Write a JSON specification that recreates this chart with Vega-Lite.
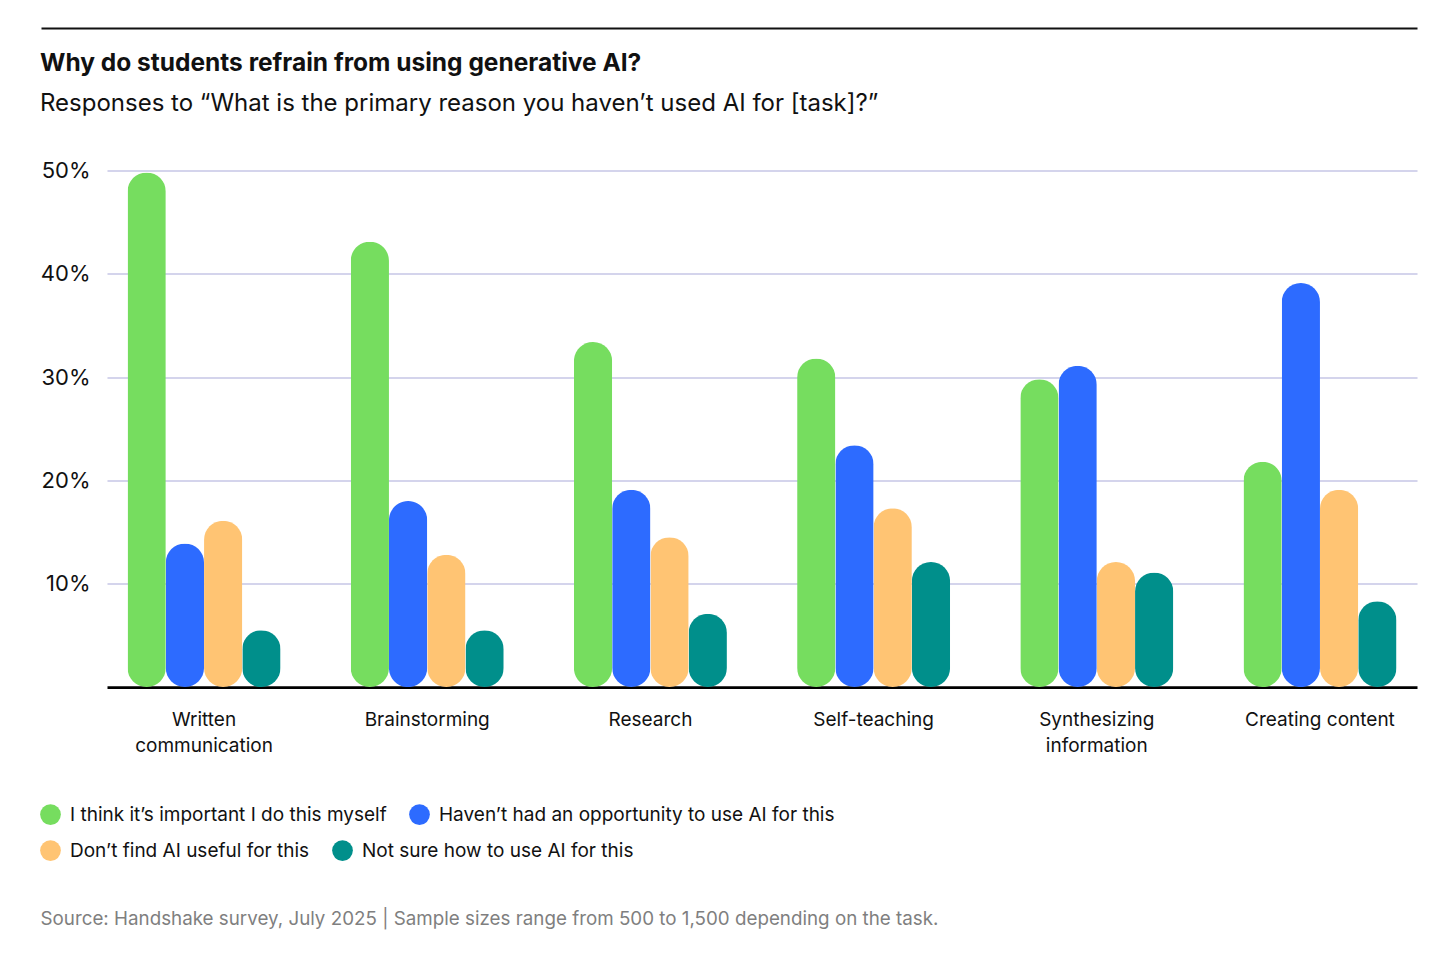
{
  "$schema": "https://vega.github.io/schema/vega-lite/v6.json",
  "background": "white",
  "padding": {"left": 40, "top": 27, "right": 0, "bottom": 25},
  "spacing": 43.5,
  "config": {
    "font": "Inter",
    "view": {"stroke": null},
    "axis": {"labelFont": "Inter", "titleFont": "Inter"},
    "legend": {"labelFont": "Inter"}
  },
  "vconcat": [
    {
      "width": 1310,
      "height": 1,
      "data": {"values": [{"line": 1}]},
      "mark": {"type": "rule", "color": "#111111", "strokeWidth": 2, "opacity": 0},
      "encoding": {
        "y": {
          "field": "line",
          "type": "quantitative",
          "axis": {
            "values": [1],
            "ticks": true,
            "tickSize": 1376,
            "tickWidth": 2,
            "tickColor": "#111111",
            "offset": -1310,
            "domain": false,
            "labels": false,
            "grid": false,
            "title": null
          }
        }
      },
      "title": {
        "text": "Why do students refrain from using generative AI?",
        "subtitle": "Responses to “What is the primary reason you haven’t used AI for [task]?”",
        "orient": "bottom",
        "anchor": "start",
        "frame": "group",
        "dx": -67,
        "offset": 23,
        "font": "Inter",
        "subtitleFont": "Inter",
        "fontSize": 24.5,
        "fontWeight": 700,
        "subtitleFontSize": 24,
        "subtitleFontWeight": 400,
        "subtitlePadding": 15,
        "color": "#111111",
        "subtitleColor": "#111111"
      }
    },
    {
      "width": 1310,
      "height": 516.6,
      "data": {
        "values": [
          {"task": "Written communication", "reason": "I think it’s important I do this myself", "value": 49.8},
          {"task": "Written communication", "reason": "Haven’t had an opportunity to use AI for this", "value": 13.9},
          {"task": "Written communication", "reason": "Don’t find AI useful for this", "value": 16.1},
          {"task": "Written communication", "reason": "Not sure how to use AI for this", "value": 5.5},
          {"task": "Brainstorming", "reason": "I think it’s important I do this myself", "value": 43.1},
          {"task": "Brainstorming", "reason": "Haven’t had an opportunity to use AI for this", "value": 18.0},
          {"task": "Brainstorming", "reason": "Don’t find AI useful for this", "value": 12.8},
          {"task": "Brainstorming", "reason": "Not sure how to use AI for this", "value": 5.5},
          {"task": "Research", "reason": "I think it’s important I do this myself", "value": 33.4},
          {"task": "Research", "reason": "Haven’t had an opportunity to use AI for this", "value": 19.1},
          {"task": "Research", "reason": "Don’t find AI useful for this", "value": 14.5},
          {"task": "Research", "reason": "Not sure how to use AI for this", "value": 7.1},
          {"task": "Self-teaching", "reason": "I think it’s important I do this myself", "value": 31.8},
          {"task": "Self-teaching", "reason": "Haven’t had an opportunity to use AI for this", "value": 23.4},
          {"task": "Self-teaching", "reason": "Don’t find AI useful for this", "value": 17.3},
          {"task": "Self-teaching", "reason": "Not sure how to use AI for this", "value": 12.1},
          {"task": "Synthesizing information", "reason": "I think it’s important I do this myself", "value": 29.8},
          {"task": "Synthesizing information", "reason": "Haven’t had an opportunity to use AI for this", "value": 31.1},
          {"task": "Synthesizing information", "reason": "Don’t find AI useful for this", "value": 12.1},
          {"task": "Synthesizing information", "reason": "Not sure how to use AI for this", "value": 11.1},
          {"task": "Creating content", "reason": "I think it’s important I do this myself", "value": 21.8},
          {"task": "Creating content", "reason": "Haven’t had an opportunity to use AI for this", "value": 39.1},
          {"task": "Creating content", "reason": "Don’t find AI useful for this", "value": 19.1},
          {"task": "Creating content", "reason": "Not sure how to use AI for this", "value": 8.3}
        ]
      },
      "encoding": {
        "x": {
          "field": "task",
          "type": "nominal",
          "sort": ["Written communication", "Brainstorming", "Research", "Self-teaching", "Synthesizing information", "Creating content"],
          "scale": {"paddingInner": 0.3145, "paddingOuter": 0.092},
          "axis": {
            "labelAngle": 0,
            "labelFontSize": 19,
            "labelColor": "#111111",
            "labelPadding": 23,
            "labelLineHeight": 26,
            "labelExpr": "datum.value == 'Written communication' ? ['Written', 'communication'] : datum.value == 'Synthesizing information' ? ['Synthesizing', 'information'] : datum.value",
            "ticks": false,
            "domainColor": "#000000",
            "domainWidth": 2.6,
            "title": "Source: Handshake survey, July 2025 | Sample sizes range from 500 to 1,500 depending on the task.",
            "titleFontSize": 18.8,
            "titleFontWeight": 400,
            "titleColor": "#7f7f7f",
            "titleAnchor": "start",
            "titleAlign": "left",
            "titleBaseline": "top",
            "titleX": -67,
            "titleY": 222
          }
        },
        "xOffset": {
          "field": "reason",
          "type": "nominal",
          "scale": {
            "domain": ["I think it’s important I do this myself", "Haven’t had an opportunity to use AI for this", "Don’t find AI useful for this", "Not sure how to use AI for this"],
            "paddingInner": 0,
            "paddingOuter": 0
          }
        },
        "y": {
          "field": "value",
          "type": "quantitative",
          "scale": {"domain": [0, 50], "nice": false},
          "axis": {
            "values": [10, 20, 30, 40, 50],
            "labelExpr": "datum.value + '%'",
            "labelFontSize": 22,
            "labelColor": "#111111",
            "labelPadding": 17,
            "ticks": false,
            "domain": false,
            "gridColor": "#D4D4EC",
            "gridWidth": 2,
            "title": null
          }
        }
      },
      "layer": [
        {
          "transform": [{"filter": {"field": "reason", "oneOf": ["I think it’s important I do this myself", "Haven’t had an opportunity to use AI for this"]}}],
          "mark": {"type": "bar", "cornerRadius": 19, "clip": false},
          "encoding": {
            "color": {
              "field": "reason",
              "type": "nominal",
              "scale": {
                "domain": ["I think it’s important I do this myself", "Haven’t had an opportunity to use AI for this"],
                "range": ["#76DD5F", "#2D6BFF"]
              },
              "legend": {
                "title": null,
                "orient": "none",
                "legendX": -67,
                "legendY": 776,
                "direction": "horizontal",
                "columnPadding": 22,
                "symbolType": "circle",
                "symbolSize": 430,
                "symbolStrokeWidth": 0,
                "symbolOpacity": 1,
                "labelFontSize": 19,
                "labelColor": "#111111",
                "labelOffset": 9,
                "labelLimit": 0
              }
            }
          }
        },
        {
          "transform": [{"filter": {"field": "reason", "oneOf": ["Don’t find AI useful for this", "Not sure how to use AI for this"]}}],
          "mark": {"type": "bar", "cornerRadius": 19, "clip": false},
          "encoding": {
            "fill": {
              "field": "reason",
              "type": "nominal",
              "scale": {
                "domain": ["Don’t find AI useful for this", "Not sure how to use AI for this"],
                "range": ["#FFC473", "#008F8B"]
              },
              "legend": {
                "title": null,
                "orient": "none",
                "legendX": -67,
                "legendY": 812,
                "direction": "horizontal",
                "columnPadding": 22,
                "symbolType": "circle",
                "symbolSize": 430,
                "symbolStrokeWidth": 0,
                "symbolOpacity": 1,
                "labelFontSize": 19,
                "labelColor": "#111111",
                "labelOffset": 9,
                "labelLimit": 0
              }
            }
          }
        }
      ]
    }
  ]
}
